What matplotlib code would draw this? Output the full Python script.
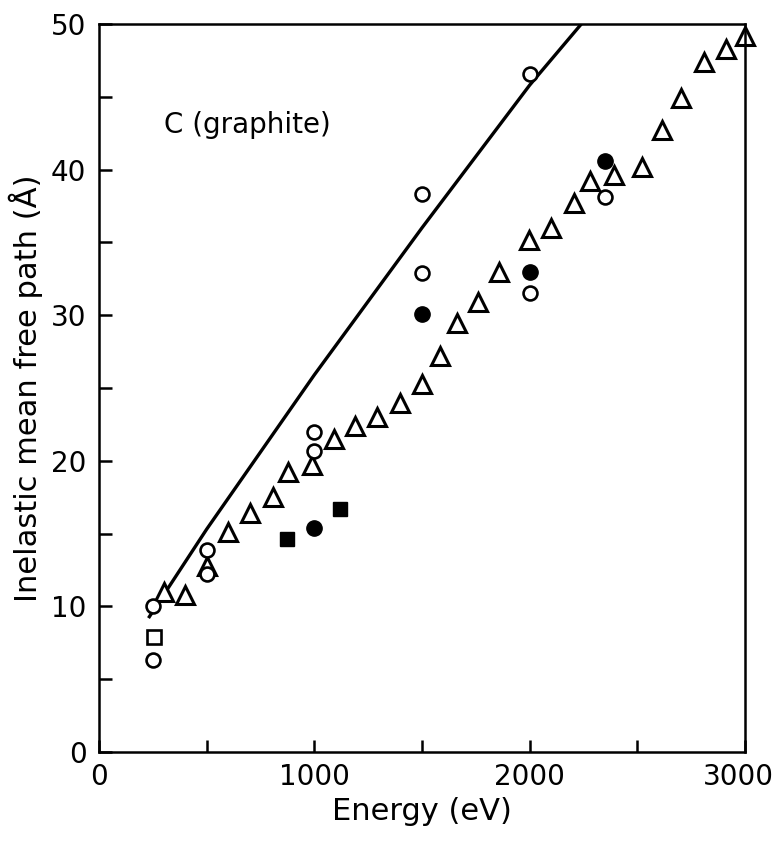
import matplotlib.pyplot as plt
import matplotlib.transforms as mtransforms
import numpy as np

# C (graphite) inelastic mean free path data
tri_energy = [300, 400, 500, 600, 700, 810, 880, 990, 1090, 1190, 1290, 1400, 1500,
              1585, 1665, 1760, 1860, 1995, 2100, 2205, 2280, 2390, 2520, 2615,
              2705, 2810, 2910, 3000]
tri_imfp = [11.0, 10.8, 12.8, 15.1, 16.4, 17.5, 19.2, 19.7, 21.5, 22.4, 23.0, 24.0, 25.3,
            27.2, 29.5, 30.9, 33.0, 35.2, 36.0, 37.7, 39.2, 39.6, 40.2, 42.7,
            44.9, 47.4, 48.3, 49.2]

open_circ_energy = [250, 250, 500, 500, 1000, 1000, 1500, 1500, 2000, 2000, 2350]
open_circ_imfp = [6.3, 10.0, 13.9, 12.2, 20.7, 22.0, 38.3, 32.9, 46.6, 31.5, 38.1]

filled_circ_energy = [1000, 1500, 2000, 2350]
filled_circ_imfp = [15.4, 30.1, 33.0, 40.6]

open_sq_energy = [255]
open_sq_imfp = [7.9]

filled_sq_energy = [875, 1120]
filled_sq_imfp = [14.6, 16.7]

# calculated curve
line_energy = [230, 500, 1000, 1500, 2000, 2240]
line_imfp = [9.2, 15.3, 25.9, 36.0, 45.8, 50.0]

plt.rcParams['font.family'] = ['DejaVu Sans']

fig = plt.figure(figsize=(7.78, 8.41), dpi=100)
ax = fig.add_axes([0.1272, 0.1058, 0.8303, 0.8656])

ax.plot(line_energy, line_imfp, color='black', lw=2.4, solid_capstyle='butt')

ax.plot(tri_energy, tri_imfp, linestyle='none', marker='^', markersize=12.5,
        markerfacecolor='white', markeredgecolor='black', markeredgewidth=2.2, clip_on=False)
ax.plot(open_circ_energy, open_circ_imfp, linestyle='none', marker='o', markersize=10,
        markerfacecolor='white', markeredgecolor='black', markeredgewidth=1.9)
ax.plot(filled_circ_energy, filled_circ_imfp, linestyle='none', marker='o', markersize=11,
        color='black')
ax.plot(open_sq_energy, open_sq_imfp, linestyle='none', marker='s', markersize=9.5,
        markerfacecolor='white', markeredgecolor='black', markeredgewidth=1.9)
ax.plot(filled_sq_energy, filled_sq_imfp, linestyle='none', marker='s', markersize=10.5,
        color='black')

ax.text(300, 43.1, 'C (graphite)', fontsize=20, va='center', ha='left')

ax.set_xlim(0, 3000)
ax.set_ylim(0, 50)
ax.set_xticks(np.arange(0, 3001, 500))
ax.set_xticklabels(['0', '', '1000', '', '2000', '', '3000'])
ax.set_yticks(np.arange(0, 51, 5))
ax.set_yticklabels(['0', '', '10', '', '20', '', '30', '', '40', '', '50'])
ax.tick_params(direction='in', length=9, width=1.8, labelsize=20)
ax.tick_params(axis='x', pad=8)
ax.tick_params(axis='y', pad=9)

# keep the last x label inside the figure
last = ax.get_xticklabels()[-1]
last.set_transform(last.get_transform() + mtransforms.ScaledTranslation(-7 / 100, 0, fig.dpi_scale_trans))

for s in ax.spines.values():
    s.set_linewidth(1.8)

ax.set_xlabel('Energy (eV)', fontsize=22, labelpad=4)
ax.set_ylabel('Inelastic mean free path (Å)', fontsize=22, labelpad=6)

fig.savefig('out.png', dpi=100)
